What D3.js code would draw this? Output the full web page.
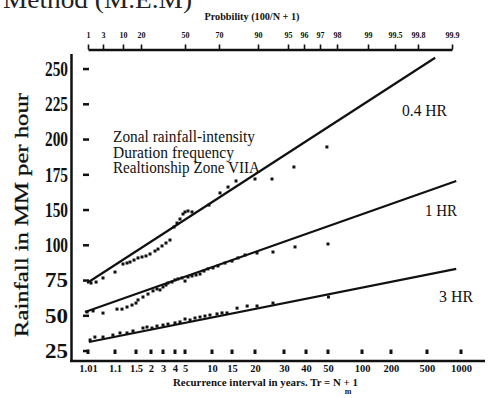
<!DOCTYPE html>
<html>
<head>
<meta charset="utf-8">
<script src="https://cdn.jsdelivr.net/npm/d3@7"></script>
<style>
  body { margin: 0; background: #fff; }
  text { font-family: "Liberation Serif", "DejaVu Serif", serif; fill: #111; }
</style>
</head>
<body>
<svg id="chart"></svg>
<script>
var width = 495, height = 398;

// tick values of the printed paper
var recurrenceTicks = [1.01, 1.1, 1.5, 2, 3, 4, 5, 10, 15, 20, 30, 40, 50, 100, 200, 500, 1000];
var probabilityTicks = [1, 3, 10, 20, 50, 70, 90, 95, 96, 97, 98, 99, 99.5, 99.8, 99.9];
var rainfallTicks = [25, 50, 75, 100, 150, 175, 200, 225, 250];

// observed points: [recurrence interval (yrs), rainfall mm/hr]
var hr04 = [[1.02, 73.2], [1.037, 73.9], [1.06, 76.8], [1.10, 81.0], [1.252, 86.7], [1.329, 87.4],
  [1.386, 88.1], [1.462, 89.5], [1.567, 91.0], [1.7, 91.7], [1.833, 92.4], [1.967, 93.8],
  [2.333, 95.9], [2.583, 97.3], [2.917, 99.5], [3.25, 103.2], [3.583, 107.4], [3.917, 125.9],
  [4.2, 131.5], [4.5, 137.2], [4.8, 144.3], [5.0, 147.2], [5.556, 148.6], [6.3, 147.2],
  [9.44, 153.5], [12.0, 162.1], [14.0, 166.3], [15.87, 170.6], [20.0, 172.0], [25.86, 172.0],
  [34.5, 180.5], [49.5, 194.7]];
var hr1 = [[1.007, 52.7], [1.027, 53.4], [1.06, 51.9], [1.138, 54.7], [1.233, 54.7], [1.329, 56.2],
  [1.424, 57.6], [1.5, 59.0], [1.567, 61.2], [1.733, 63.3], [1.9, 65.4], [2.167, 67.6],
  [2.5, 69.0], [2.75, 68.3], [3.0, 70.4], [3.25, 71.8], [3.417, 73.2], [3.75, 73.9],
  [4.0, 75.4], [4.3, 76.1], [4.7, 76.8], [5.0, 74.6], [5.556, 77.5], [6.296, 78.2],
  [7.04, 78.9], [7.78, 79.6], [8.52, 81.7], [9.26, 83.2], [10.25, 83.9], [11.5, 85.3],
  [13.25, 87.4], [15.0, 88.8], [16.3, 91.0], [17.83, 93.1], [20.69, 94.5], [26.2, 95.2],
  [35.0, 98.8], [50.0, 101.8]];
var hr3 = [[1.017, 32.8], [1.033, 34.9], [1.06, 34.9], [1.093, 36.3], [1.195, 37.8], [1.329, 37.8],
  [1.443, 39.2], [1.733, 41.3], [1.867, 42.0], [2.083, 41.3], [2.5, 42.7], [3.0, 43.4],
  [3.417, 44.1], [4.0, 44.9], [4.5, 45.6], [5.0, 47.7], [5.93, 47.0], [6.85, 48.4],
  [7.78, 49.1], [8.7, 49.8], [9.63, 50.5], [11.25, 51.3], [12.5, 52.0], [13.75, 52.0],
  [16.1, 55.4], [18.3, 56.9], [20.7, 56.9], [26.2, 59.0], [50.7, 63.3]];

// fitted lines (two ends each)
var fit04 = [[1.007, 73.2], [620, 258]];
var fit1 = [[1.0, 52.6], [930, 170.6]];
var fit3 = [[1.013, 31.4], [930, 83.2]];

var lineNames = ["0.4 HR", "1 HR", "3 HR"];
var noteLines = ["Zonal rainfall-intensity", "Duration frequency", "Realtionship Zone VIIA"];

// the paper is hand drawn, so tick spacing is uneven: fraction along the printed scale
var bottomPaper = [0, 0.0724, 0.1287, 0.1689, 0.2011, 0.2332, 0.2601, 0.3324, 0.3861, 0.4477,
  0.5255, 0.5845, 0.6434, 0.7346, 0.8123, 0.9088, 1];
var topPaper = [0, 0.0402, 0.0938, 0.1421, 0.2601, 0.3512, 0.4558, 0.5362, 0.5791, 0.6220,
  0.6676, 0.7507, 0.8231, 0.8847, 0.9759];

var x0 = 88, x1 = 461;
var yBottom = 351, yStep = 35.25;

var x = d3.scaleLinear()
  .domain(recurrenceTicks)
  .range(bottomPaper.map(function (f) { return x0 + f * (x1 - x0); }));
var p = d3.scaleLinear()
  .domain(probabilityTicks)
  .range(topPaper.map(function (f) { return x0 + f * (x1 - x0); }));
var y = d3.scaleLinear()
  .domain(rainfallTicks)
  .range(rainfallTicks.map(function (d, i) { return yBottom - i * yStep; }));

var svg = d3.select('#chart')
  .attr('width', width)
  .attr('height', height);

svg.append('rect').attr('width', width).attr('height', height).attr('fill', '#fff');

// clipped heading from the page above
svg.append('text')
  .attr('x', 3).attr('y', 8)
  .attr('font-size', 26)
  .attr('textLength', 189).attr('lengthAdjust', 'spacingAndGlyphs')
  .style('fill', '#222')
  .text('Method (M.E.M)');

// top probability axis
var topAxis = svg.append('g')
  .attr('transform', 'translate(0,49.5)')
  .call(d3.axisTop(p).tickValues(probabilityTicks).tickSize(5).tickSizeOuter(0).tickPadding(6.5)
    .tickFormat(function (d) { return String(d); }));
topAxis.select('.domain').attr('stroke', '#111').attr('stroke-width', 2.5);
topAxis.selectAll('.tick line').attr('stroke', '#111').attr('stroke-width', 1.6);
topAxis.selectAll('.tick text')
  .attr('font-size', 8).attr('font-weight', 'bold')
  .attr('font-family', '"Liberation Serif", serif').style('fill', '#111');

svg.append('text')
  .attr('x', 252).attr('y', 19.5)
  .attr('text-anchor', 'middle')
  .attr('font-size', 10).attr('font-weight', 'bold')
  .attr('textLength', 95).attr('lengthAdjust', 'spacingAndGlyphs')
  .text('Probbility (100/N + 1)');

// frame
svg.append('line')
  .attr('x1', 71.5).attr('x2', 71.5).attr('y1', 54).attr('y2', 362)
  .attr('stroke', '#111').attr('stroke-width', 2.5);
svg.append('line')
  .attr('x1', 70).attr('x2', 485).attr('y1', 361).attr('y2', 361)
  .attr('stroke', '#111').attr('stroke-width', 2.5);

// bottom labels
var bottomAxis = svg.append('g')
  .attr('transform', 'translate(0,361)')
  .call(d3.axisBottom(x).tickValues(recurrenceTicks).tickSize(0).tickPadding(4)
    .tickFormat(function (d) { return String(d); }));
bottomAxis.select('.domain').remove();
bottomAxis.selectAll('.tick text')
  .attr('font-size', 10.5).attr('font-weight', 'bold')
  .attr('font-family', '"Liberation Serif", serif').style('fill', '#111');

// left labels
var leftAxis = svg.append('g')
  .attr('transform', 'translate(71.5,0)')
  .call(d3.axisLeft(y).tickValues(rainfallTicks).tickSize(0).tickPadding(3.5));
leftAxis.select('.domain').remove();
leftAxis.selectAll('.tick text')
  .attr('font-size', 20).attr('font-weight', 'bold')
  .attr('font-family', '"Liberation Serif", serif').style('fill', '#111')
  .attr('textLength', 23).attr('lengthAdjust', 'spacingAndGlyphs');

// little grid marks along the first column and the bottom row
svg.append('g').selectAll('rect')
  .data(rainfallTicks)
  .enter().append('rect')
  .attr('x', x(recurrenceTicks[0]) - 5).attr('y', function (d) { return y(d) - 1.2; })
  .attr('width', 6).attr('height', 2.5)
  .attr('fill', '#111');
svg.append('g').selectAll('rect')
  .data(recurrenceTicks)
  .enter().append('rect')
  .attr('x', function (d) { return x(d) - 1.5; }).attr('y', y(rainfallTicks[0]) - 1.5)
  .attr('width', 3).attr('height', 4.5)
  .attr('fill', '#111');

// titles
svg.append('text')
  .attr('transform', 'translate(27.5,215) rotate(-90)')
  .attr('text-anchor', 'middle')
  .attr('font-size', 19)
  .attr('textLength', 244).attr('lengthAdjust', 'spacingAndGlyphs')
  .style('stroke', '#111').style('stroke-width', 0.3)
  .text('Rainfall in MM per hour');

svg.append('text')
  .attr('x', 173).attr('y', 385.5)
  .attr('font-size', 9.5).attr('font-weight', 'bold')
  .attr('textLength', 185).attr('lengthAdjust', 'spacingAndGlyphs')
  .text('Recurrence interval in years. Tr = N + 1');
svg.append('text')
  .attr('x', 348).attr('y', 393.5)
  .attr('text-anchor', 'middle')
  .attr('font-size', 8).attr('font-weight', 'bold')
  .text('m');

// fitted lines
var line = d3.line()
  .x(function (d) { return x(d[0]); })
  .y(function (d) { return y(d[1]); });

[fit04, fit1, fit3].forEach(function (f) {
  svg.append('path')
    .attr('d', line(f))
    .attr('fill', 'none')
    .attr('stroke', '#111')
    .attr('stroke-width', 2.2);
});

// observed points
[hr04, hr1, hr3].forEach(function (s) {
  svg.append('g').selectAll('rect')
    .data(s)
    .enter().append('rect')
    .attr('x', function (d) { return x(d[0]) - 1.5; })
    .attr('y', function (d) { return y(d[1]) - 1.5; })
    .attr('width', 3).attr('height', 3)
    .attr('fill', '#111');
});

// duration labels
var namePos = [[402, 116, 45], [425, 216, 32], [439, 302, 34]];
svg.append('g').selectAll('text')
  .data(lineNames)
  .enter().append('text')
  .attr('x', function (d, i) { return namePos[i][0]; })
  .attr('y', function (d, i) { return namePos[i][1]; })
  .attr('font-size', 16)
  .attr('textLength', function (d, i) { return namePos[i][2]; })
  .attr('lengthAdjust', 'spacingAndGlyphs')
  .text(function (d) { return d; });

// note
var noteWidths = [142, 121, 147];
svg.append('g').selectAll('text')
  .data(noteLines)
  .enter().append('text')
  .attr('x', 113)
  .attr('y', function (d, i) { return 142 + i * 15.5; })
  .attr('font-size', 16)
  .attr('textLength', function (d, i) { return noteWidths[i]; })
  .attr('lengthAdjust', 'spacingAndGlyphs')
  .text(function (d) { return d; });
</script>
</body>
</html>
